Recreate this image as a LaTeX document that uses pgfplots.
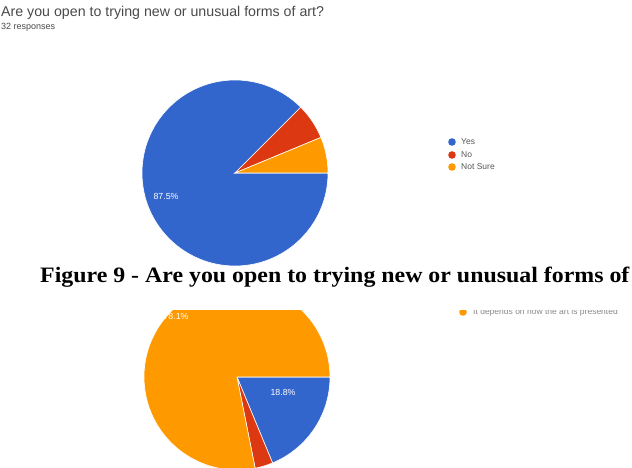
\documentclass[border=0pt]{standalone}
\usepackage{fontspec}
\setmainfont{Liberation Serif}
\newfontfamily\gsans{Liberation Sans}
\usepackage{pgfplots}
\usepackage{pgfplotstable}
\pgfplotsset{compat=1.18}
\definecolor{gBlue}{HTML}{3366CC}
\definecolor{gRed}{HTML}{DC3912}
\definecolor{gOrange}{HTML}{FF9900}
\definecolor{gText}{HTML}{4A4A4A}
\definecolor{gLeg}{HTML}{555555}

% Figure 9: Are you open to trying new or unusual forms of art? (32 responses)
\pgfplotstableread{
answer count
Yes 28
No 2
NotSure 2
}\pieA
% second chart (partly visible)
\pgfplotstableread{
answer count
Blue 6
Red 1
Orange 25
}\pieB

\newcommand\getcount[3]{\pgfplotstablegetelem{#2}{count}\of#1\xdef#3{\pgfplotsretval}}
\getcount\pieA{0}\Aone
\getcount\pieA{1}\Atwo
\getcount\pieA{2}\Athree
\getcount\pieB{0}\Bone
\getcount\pieB{1}\Btwo
\getcount\pieB{2}\Bthree
\pgfmathsetmacro\Atot{\Aone+\Atwo+\Athree}
\pgfmathsetmacro\AendOne{-360*\Aone/\Atot}
\pgfmathsetmacro\AendTwo{-360*(\Aone+\Atwo)/\Atot}
\pgfmathsetmacro\Btot{\Bone+\Btwo+\Bthree}
\pgfmathsetmacro\BendOne{-360*\Bone/\Btot}
\pgfmathsetmacro\BendTwo{-360*(\Bone+\Btwo)/\Btot}

\begin{document}
\begin{tikzpicture}
\begin{axis}[
  x=1pt, y=1pt, scale only axis,
  xmin=0, xmax=632, ymin=0, ymax=468,
  enlargelimits=false, hide axis, clip=false,
]
\begin{scope}
\clip (axis cs:0,0) rectangle (axis cs:632,468);
\path[fill=white] (axis cs:0,0) rectangle (axis cs:632,468);
% title
\node[anchor=base west, inner sep=0pt, text=gText, font=\gsans\fontsize{14.2}{14.2}\selectfont] at (axis cs:1,451) {Are you open to trying new or unusual forms of art?};
\node[anchor=base west, inner sep=0pt, text=gText, font=\gsans\fontsize{9}{9}\selectfont] at (axis cs:1,438) {32 responses};
% pie 1
\fill[gBlue, draw=white, line width=0.6pt] (axis cs:235,295) -- ++(0:93pt) arc[start angle=0, end angle=\AendOne, radius=93pt] -- cycle;
\fill[gRed, draw=white, line width=0.6pt] (axis cs:235,295) -- ++(\AendOne:93pt) arc[start angle=\AendOne, end angle=\AendTwo, radius=93pt] -- cycle;
\fill[gOrange, draw=white, line width=0.6pt] (axis cs:235,295) -- ++(\AendTwo:93pt) arc[start angle=\AendTwo, end angle=-360, radius=93pt] -- cycle;
\node[text=white, font=\gsans\fontsize{8.8}{8.8}\selectfont] at (axis cs:166,272) {87.5\%};
% legend 1
\fill[gBlue] (axis cs:452,326) circle (3.8pt);
\fill[gRed] (axis cs:452,313) circle (3.8pt);
\fill[gOrange] (axis cs:452,301) circle (3.8pt);
\node[anchor=west, inner sep=0pt, text=gLeg, font=\gsans\fontsize{8.5}{8.5}\selectfont] at (axis cs:461,326) {Yes};
\node[anchor=west, inner sep=0pt, text=gLeg, font=\gsans\fontsize{8.5}{8.5}\selectfont] at (axis cs:461,313) {No};
\node[anchor=west, inner sep=0pt, text=gLeg, font=\gsans\fontsize{8.5}{8.5}\selectfont] at (axis cs:461,301) {Not Sure};
% caption
\node[anchor=base west, inner sep=0pt, font=\bfseries\fontsize{22}{22}\selectfont] at (axis cs:40,185) {\scalebox{1.085}[1]{Figure 9 - Are you open to trying new or unusual forms of}};
\end{scope}
% pie 2 (cropped at the top)
\begin{scope}
\clip (axis cs:0,0) rectangle (axis cs:632,157);
\fill[gBlue, draw=white, line width=0.6pt] (axis cs:237,91) -- ++(0:93pt) arc[start angle=0, end angle=\BendOne, radius=93pt] -- cycle;
\fill[gRed, draw=white, line width=0.6pt] (axis cs:237,91) -- ++(\BendOne:93pt) arc[start angle=\BendOne, end angle=\BendTwo, radius=93pt] -- cycle;
\fill[gOrange, draw=white, line width=0.6pt] (axis cs:237,91) -- ++(\BendTwo:93pt) arc[start angle=\BendTwo, end angle=-360, radius=93pt] -- cycle;
\node[text=white, font=\gsans\fontsize{8.8}{8.8}\selectfont] at (axis cs:283,76) {18.8\%};
\node[text=white, font=\gsans\fontsize{8.8}{8.8}\selectfont] at (axis cs:176,152) {78.1\%};
\fill[gOrange] (axis cs:463,156) circle (3.8pt);
\node[anchor=west, inner sep=0pt, text=gLeg!70, font=\gsans\fontsize{8.5}{8.5}\selectfont] at (axis cs:473,156) {It depends on how the art is presented};
\end{scope}
\end{axis}
\end{tikzpicture}
\end{document}
